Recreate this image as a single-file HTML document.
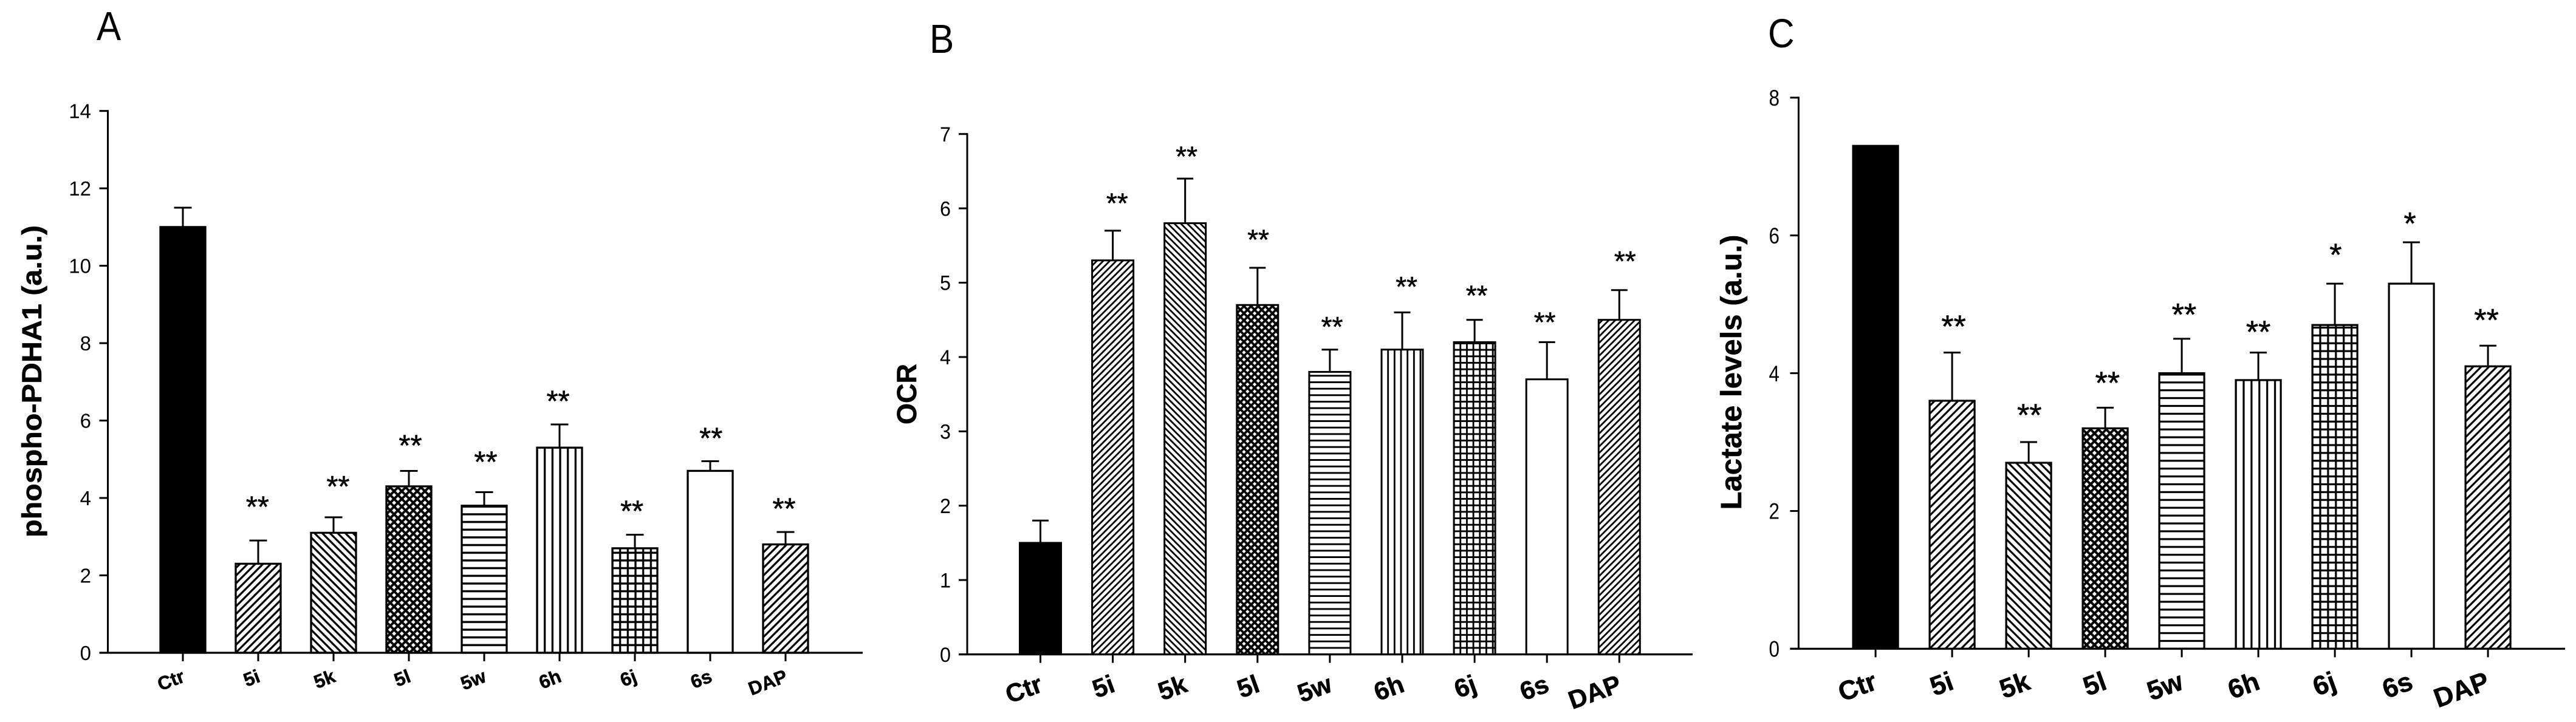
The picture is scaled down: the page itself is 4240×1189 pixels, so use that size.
<!DOCTYPE html>
<html lang="en">
<head>
<meta charset="utf-8">
<title>Bar charts A, B and C</title>
<style>
html,body{margin:0;padding:0;background:#fff;width:4240px;height:1189px;overflow:hidden}
svg{display:block}
text{font-family:"Liberation Sans",Arial,sans-serif;fill:#000}
</style>
</head>
<body>
<svg id="figure" xmlns="http://www.w3.org/2000/svg" width="4240" height="1189" viewBox="0 0 4240 1189">
<rect x="0" y="0" width="4240" height="1189" fill="#fff"/>
<defs id="pattern-defs"></defs>
</svg>
<script>
const categories = ['Ctr', '5i', '5k', '5l', '5w', '6h', '6j', '6s', 'DAP'];
const hatches = ['solid', 'up', 'down', 'cross', 'horizontal', 'vertical', 'grid', 'none', 'up'];

const ticksA = [0, 2, 4, 6, 8, 10, 12, 14];
const valuesA = [11, 2.3, 3.1, 4.3, 3.8, 5.3, 2.7, 4.7, 2.8];
const errorsA = [0.5, 0.6, 0.4, 0.4, 0.35, 0.6, 0.35, 0.25, 0.32];
const starTextA = ['', '**', '**', '**', '**', '**', '**', '**', '**'];
const starLevelA = [0, 3.84, 4.36, 5.42, 5.0, 6.57, 3.73, 5.61, 3.79];
const starSlotA = [0, 0.99, 2.06, 3.02, 4.02, 4.98, 5.96, 7.01, 7.98];

const ticksB = [0, 1, 2, 3, 4, 5, 6, 7];
const valuesB = [1.5, 5.3, 5.8, 4.7, 3.8, 4.1, 4.2, 3.7, 4.5];
const errorsB = [0.3, 0.4, 0.6, 0.5, 0.3, 0.5, 0.3, 0.5, 0.4];
const starTextB = ['', '**', '**', '**', '**', '**', '**', '**', '**'];
const starLevelB = [0, 6.10, 6.73, 5.61, 4.44, 4.98, 4.86, 4.50, 5.32];
const starSlotB = [0, 1.06, 2.02, 3.01, 4.03, 5.06, 6.03, 6.97, 8.08];

const ticksC = [0, 2, 4, 6, 8];
const valuesC = [7.3, 3.6, 2.7, 3.2, 4.0, 3.9, 4.7, 5.3, 4.1];
const errorsC = [0, 0.7, 0.3, 0.3, 0.5, 0.4, 0.6, 0.6, 0.3];
const starTextC = ['', '**', '**', '**', '**', '**', '*', '*', '**'];
const starLevelC = [0, 4.72, 3.43, 3.90, 4.89, 4.64, 5.76, 6.21, 4.81];
const starSlotC = [0, 1.02, 2.01, 3.03, 4.03, 5.0, 6.01, 6.98, 7.98];

const panels = [
  {key: 'a', letter: 'A', letterX: 159, letterY: 66, title: 'phospho-PDHA1 (a.u.)', titleX: 68, titleY: 628, titleLen: 514, titleSize: 45,
   ticks: ticksA, values: valuesA, errors: errorsA, starText: starTextA, starLevel: starLevelA, starSlot: starSlotA,
   axisX: 177.5, axisEnd: 1420, y0: 1075, yTop: 182.7, yMax: 14, x0: 301, step: 124, barW: 74, sw: 3.3, cap: 29,
   tickFont: 33, tickSx: 1, tickEnd: 150, labelFont: 31, labelRot: 21, labelDx: 5, labelY: 1122, starFont: 49, period: 12.67, crossPeriod: 12.67, hatchSw: 3.3, crossSw: 4},
  {key: 'b', letter: 'B', letterX: 1530, letterY: 87, title: 'OCR', titleX: 1508, titleY: 649, titleLen: 100, titleSize: 45,
   ticks: ticksB, values: valuesB, errors: errorsB, starText: starTextB, starLevel: starLevelB, starSlot: starSlotB,
   axisX: 1592, axisEnd: 2786, y0: 1077.6, yTop: 220.7, yMax: 7, x0: 1712.5, step: 119.1, barW: 68, sw: 3, cap: 27,
   tickFont: 34, tickSx: 0.95, tickEnd: 1565, labelFont: 42, labelRot: 20, labelDx: 6, labelY: 1138, starFont: 46, period: 10.67, crossPeriod: 11.7, hatchSw: 2.8, crossSw: 3.8},
  {key: 'c', letter: 'C', letterX: 2910, letterY: 78, title: 'Lactate levels (a.u.)', titleX: 2866, titleY: 613, titleLen: 453, titleSize: 48,
   ticks: ticksC, values: valuesC, errors: errorsC, starText: starTextC, starLevel: starLevelC, starSlot: starSlotC,
   axisX: 2960.4, axisEnd: 4222, y0: 1068.4, yTop: 160.8, yMax: 8, x0: 3087.1, step: 126, barW: 74, sw: 3.2, cap: 28,
   tickFont: 37, tickSx: 0.85, tickEnd: 2929, labelFont: 44, labelRot: 20, labelDx: 5, labelY: 1134, starFont: 52, period: 12.9, crossPeriod: 12.9, hatchSw: 3.2, crossSw: 4}
];

const NS = 'http://www.w3.org/2000/svg';
const svg = document.getElementById('figure');
const defs = document.getElementById('pattern-defs');

function make(tag, parent, attrs) {
  const el = document.createElementNS(NS, tag);
  for (const k in attrs) el.setAttribute(k, attrs[k]);
  parent.appendChild(el);
  return el;
}

function hatchPath(kind, p) {
  if (kind === 'up') return 'M' + (-p) + ' ' + p + 'L' + p + ' ' + (-p) + 'M0 ' + (2 * p) + 'L' + (2 * p) + ' 0M' + (-p) + ' ' + (2 * p) + 'L' + (2 * p) + ' ' + (-p);
  if (kind === 'down') return 'M' + (-p) + ' 0L' + p + ' ' + (2 * p) + 'M0 ' + (-p) + 'L' + (2 * p) + ' ' + p + 'M' + (-p) + ' ' + (-p) + 'L' + (2 * p) + ' ' + (2 * p);
  if (kind === 'cross') return hatchPath('up', p) + hatchPath('down', p);
  if (kind === 'horizontal') return 'M0 0H' + p + 'M0 ' + p + 'H' + p;
  if (kind === 'vertical') return 'M0 0V' + p + 'M' + p + ' 0V' + p;
  if (kind === 'grid') return hatchPath('horizontal', p) + hatchPath('vertical', p);
  return '';
}

function barFill(panel, i, left) {
  const kind = hatches[i];
  if (kind === 'solid') return '#000';
  if (kind === 'none') return '#fff';
  const id = 'hatch-' + panel.key + '-' + i;
  const p = kind === 'cross' ? panel.crossPeriod : panel.period;
  const pat = make('pattern', defs, {
    id: id,
    patternUnits: 'userSpaceOnUse',
    width: p,
    height: p,
    patternTransform: 'translate(' + left + ' ' + panel.y0 + ')'
  });
  make('rect', pat, {x: 0, y: 0, width: p, height: p, fill: '#fff'});
  make('path', pat, {
    d: hatchPath(kind, p),
    stroke: '#000',
    'stroke-width': kind === 'cross' ? panel.crossSw : panel.hatchSw,
    fill: 'none'
  });
  return 'url(#' + id + ')';
}

panels.forEach(function (panel) {
  const yScale = function (v) { return panel.y0 - (panel.y0 - panel.yTop) * v / panel.yMax; };
  const xScale = function (slot) { return panel.x0 + panel.step * slot; };

  const g = make('g', svg, {});
  
  

  const letter = make('text', g, {
    transform: 'translate(' + panel.letterX + ' ' + panel.letterY + ') scale(0.9 1)',
    'font-size': 67
  });
  letter.textContent = panel.letter;
  
  

  const title = make('text', g, {
    transform: 'translate(' + panel.titleX + ' ' + panel.titleY + ') rotate(-90)',
    'font-size': panel.titleSize,
    'font-weight': 'bold',
    'text-anchor': 'middle',
    textLength: panel.titleLen,
    lengthAdjust: 'spacingAndGlyphs',
    stroke: '#000',
    'stroke-width': 0.5
  });
  title.textContent = panel.title;
  
  

  panel.values.forEach(function (value, i) {
    const cx = xScale(i);
    const left = cx - panel.barW / 2;
    const err = panel.errors[i];
    if (err > 0) {
      const top = yScale(value + err);
      const stem = make('line', g, {x1: cx, x2: cx, y1: yScale(value), y2: top, stroke: '#000', 'stroke-width': 3});
      
      
      const cap = make('line', g, {x1: cx - panel.cap / 2, x2: cx + panel.cap / 2, y1: top, y2: top, stroke: '#000', 'stroke-width': 3});
      
      
    }
    const bar = make('rect', g, {
      x: left,
      y: yScale(value),
      width: panel.barW,
      height: panel.y0 - yScale(value),
      fill: barFill(panel, i, left),
      stroke: '#000',
      'stroke-width': panel.sw
    });
    
    

    const xTick = make('line', g, {x1: cx, x2: cx, y1: panel.y0, y2: panel.y0 + 14, stroke: '#000', 'stroke-width': 3});
    
    

    const label = make('text', g, {
      transform: 'translate(' + (cx + panel.labelDx) + ' ' + panel.labelY + ') rotate(-' + panel.labelRot + ')',
      'font-size': panel.labelFont,
      'font-weight': 'bold',
      'text-anchor': 'end',
      stroke: '#000',
      'stroke-width': 0.6
    });
    label.textContent = categories[i];
    
    

    if (panel.starText[i]) {
      const star = make('text', g, {
        x: xScale(panel.starSlot[i]),
        y: yScale(panel.starLevel[i]) + panel.starFont * 0.43,
        'font-size': panel.starFont,
        'text-anchor': 'middle',
        stroke: '#000',
        'stroke-width': 0.6
      });
      star.textContent = panel.starText[i];
      
      
    }
  });

  const yAxis = make('line', g, {x1: panel.axisX, x2: panel.axisX, y1: panel.yTop - 1.5, y2: panel.y0, stroke: '#000', 'stroke-width': 3});
  
  

  const xAxis = make('line', g, {x1: panel.axisX - 14, x2: panel.axisEnd, y1: panel.y0, y2: panel.y0, stroke: '#000', 'stroke-width': 3.2});
  
  

  panel.ticks.forEach(function (tick) {
    const y = yScale(tick);
    const mark = make('line', g, {x1: panel.axisX - 14, x2: panel.axisX, y1: y, y2: y, stroke: '#000', 'stroke-width': 3});
    
    
    const text = make('text', g, {
      transform: 'translate(' + panel.tickEnd + ' ' + (y + panel.tickFont * 0.358) + ') scale(' + panel.tickSx + ' 1)',
      'font-size': panel.tickFont,
      'text-anchor': 'end'
    });
    text.textContent = String(tick);
    
    
  });
});
</script>
</body>
</html>
